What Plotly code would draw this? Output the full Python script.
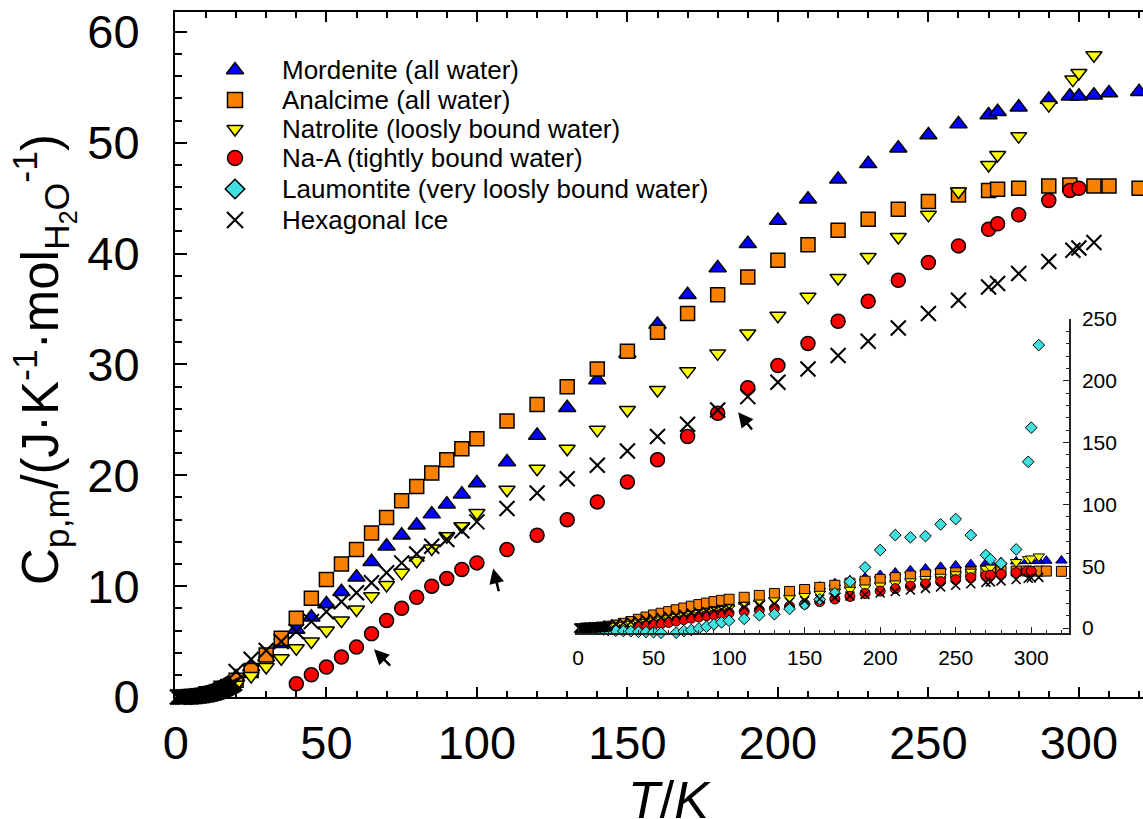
import plotly.graph_objects as go

# ---------------- data ----------------
mord_T = [5, 10, 15, 20, 25, 30, 35, 40, 45, 50, 55, 60, 65, 70, 75, 80, 85, 90, 95, 100,
          110, 120, 130, 140, 150, 160, 170, 180, 190, 200, 210, 220, 230, 240, 250, 260,
          270, 273, 280, 290, 297, 300, 305, 310, 320]
mord_Cp = [0.05, 0.3, 0.9, 1.8, 2.7, 3.6, 4.8, 6.1, 7.2, 8.4, 9.5, 10.8, 12.2, 13.6, 14.6, 15.5,
           16.5, 17.4, 18.3, 19.3, 21.2, 23.6, 26.1, 28.6, 31.0, 33.6, 36.3, 38.7, 40.9, 43.0,
           44.9, 46.7, 48.1, 49.5, 50.7, 51.7, 52.5, 52.8, 53.2, 53.9, 54.2, 54.2, 54.3, 54.5, 54.6]

anal_T = [5, 10, 15, 20, 25, 30, 35, 40, 45, 50, 55, 60, 65, 70, 75, 80, 85, 90, 95, 100,
          110, 120, 130, 140, 150, 160, 170, 180, 190, 200, 210, 220, 230, 240, 250, 260,
          270, 273, 280, 290, 297, 305, 310, 320]
anal_Cp = [0.05, 0.3, 0.8, 1.5, 2.4, 3.8, 5.3, 7.1, 8.9, 10.6, 12.0, 13.3, 14.8, 16.2, 17.7, 19.0,
           20.2, 21.4, 22.4, 23.3, 24.9, 26.4, 28.0, 29.6, 31.2, 32.9, 34.6, 36.3, 37.9, 39.4,
           40.8, 42.1, 43.1, 44.0, 44.7, 45.3, 45.7, 45.8, 45.9, 46.1, 46.2, 46.1, 46.1, 45.9]

natr_T = [5, 10, 15, 20, 25, 30, 35, 40, 45, 50, 55, 60, 65, 70, 75, 80, 85, 90, 95, 100,
          110, 120, 130, 140, 150, 160, 170, 180, 190, 200, 210, 220, 230, 240, 250, 260,
          270, 273, 280, 290, 298, 300, 305]
natr_Cp = [0.03, 0.2, 0.6, 1.1, 1.9, 2.7, 3.5, 4.4, 5.0, 6.0, 6.9, 7.9, 9.1, 10.1, 11.2, 12.3,
           13.4, 14.5, 15.4, 16.6, 18.7, 20.6, 22.4, 24.1, 25.9, 27.7, 29.4, 31.0, 32.8, 34.4,
           36.1, 37.8, 39.7, 41.5, 43.5, 45.6, 48.0, 48.9, 50.6, 53.4, 55.7, 56.3, 57.9]

naa_T = [40, 45, 50, 55, 60, 65, 70, 75, 80, 85, 90, 95, 100, 110, 120, 130, 140, 150, 160,
         170, 180, 190, 200, 210, 220, 230, 240, 250, 260, 270, 273, 280, 290, 297, 300]
naa_Cp = [1.2, 2.0, 2.7, 3.6, 4.5, 5.7, 6.9, 8.0, 9.0, 10.0, 10.7, 11.5, 12.1, 13.3, 14.6, 16.0,
          17.6, 19.4, 21.4, 23.5, 25.6, 27.9, 29.9, 31.9, 33.9, 35.7, 37.6, 39.2, 40.7, 42.2,
          42.7, 43.5, 44.8, 45.7, 45.9]

laum_T = [5, 8, 11, 14, 17, 20, 25, 30, 35, 40, 45, 50, 55, 60, 65, 70, 75, 80, 85, 90, 95, 100,
          110, 120, 130, 140, 150, 160, 170, 180, 190, 200, 210, 220, 230, 240, 250, 260, 270,
          273, 280, 290, 298, 300, 305]
laum_Cp = [0.0, 0.0, -0.5, -0.8, -1.2, -1.6, -2.2, -2.4, -2.6, -3.0, -3.2, -3.3, -3.8, -4.3, -3.8,
           -2.4, -1.6, -0.3, 1.1, 3.0, 4.6, 5.9, 7.4, 10.4, 11.2, 15.5, 19.2, 23.2, 28.1, 37.5,
           49.1, 63.1, 75.2, 73.4, 74.4, 83.9, 88.2, 75.2, 59.0, 55.6, 52.3, 63.6, 134.5, 162.1,
           228.9]

ice_T = [0.5, 1, 1.5, 2, 2.5, 3, 3.5, 4, 4.5, 5, 5.5, 6, 6.5, 7, 7.5, 8, 8.5, 9, 9.5, 10,
         10.5, 11, 11.5, 12, 12.5, 13, 13.5, 14, 14.5, 15, 15.5, 16, 16.5, 17, 17.5, 18, 18.5,
         19, 19.5, 20, 25, 30, 35, 40, 45, 50, 55, 60, 65, 70, 75, 80, 85, 90, 95, 100, 110, 120,
         130, 140, 150, 160, 170, 180, 190, 200, 210, 220, 230, 240, 250, 260, 270, 273, 280,
         290, 298, 300, 305]
ice_Cp = [0.0, 0.0, 0.0, 0.0, 0.0, 0.01, 0.01, 0.02, 0.02, 0.03, 0.04, 0.05, 0.06, 0.08, 0.09,
          0.11, 0.13, 0.15, 0.17, 0.2, 0.23, 0.26, 0.29, 0.33, 0.37, 0.41, 0.45, 0.5, 0.55, 0.6,
          0.66, 0.72, 0.78, 0.85, 0.92, 1.0, 1.07, 1.15, 1.25, 2.3, 3.4, 4.2, 5.0, 5.9, 6.8, 7.7,
          8.6, 9.4, 10.3, 11.2, 12.1, 12.9, 13.6, 14.2, 15.0, 15.8, 17.0, 18.4, 19.7, 20.9, 22.2,
          23.5, 24.6, 25.9, 27.1, 28.4, 29.6, 30.8, 32.1, 33.3, 34.6, 35.8, 37.0, 37.3, 38.2,
          39.3, 40.3, 40.5, 41.0]

series_names = ["Mordenite (all water)", "Analcime (all water)", "Natrolite (loosly bound water)",
                "Na-A (tightly bound water)", "Laumontite (very loosly bound water)",
                "Hexagonal Ice"]

# arrows (head T, head Cp, tail T, tail Cp)
arrows = [(65.8, 4.3, 71.7, 2.7), (105.4, 11.6, 107.4, 9.4), (186.8, 25.7, 191.8, 24.0)]

# ---------------- styles ----------------
FONT = "Liberation Sans, Arial, sans-serif"

styles = [
    dict(symbol="triangle-up", color="#0000FF", size=15, isize=10, lsize=15),
    dict(symbol="square", color="#FA8000", size=14, isize=10, lsize=15),
    dict(symbol="triangle-down", color="#FFFF00", size=14, isize=10, lsize=14),
    dict(symbol="circle", color="#FF0000", size=14, isize=10, lsize=15),
    dict(symbol="diamond", color="#40E0E0", size=11, isize=9, lsize=15),
    dict(symbol="x-thin", color="black", size=15, isize=9, lsize=16),
]
data = [(mord_T, mord_Cp), (anal_T, anal_Cp), (natr_T, natr_Cp), (naa_T, naa_Cp),
        (laum_T, laum_Cp), (ice_T, ice_Cp)]
in_main = [True, True, True, True, False, True]


def marker(st, size, lw):
    if st["symbol"] == "x-thin":
        return dict(symbol="x-thin", size=size, line=dict(color="black", width=lw + 0.6))
    return dict(symbol=st["symbol"], size=size, color=st["color"],
                line=dict(color="black", width=lw))


fig = go.Figure()
for (T, C), st, nm, m in zip(data, styles, series_names, in_main):
    if m:
        fig.add_trace(go.Scatter(x=T, y=C, mode="markers", name=nm, showlegend=False,
                                 marker=marker(st, st["size"], 1.5), cliponaxis=False,
                                 xaxis="x", yaxis="y"))
for (T, C), st, nm in zip(data, styles, series_names):
    fig.add_trace(go.Scatter(x=T, y=C, mode="markers", name=nm, showlegend=False,
                             marker=marker(st, st["isize"], 1.0), cliponaxis=False,
                             xaxis="x2", yaxis="y2"))

# ---------------- layout geometry ----------------
W, H = 1143, 819
ML, MR, MT, MB = 175, 0, 12, 122
PW, PH = W - ML - MR, H - MT - MB


def px_x(px):
    return (px - ML) / PW


def px_y(py):
    return (H - MB - py) / PH


# legend key (drawn on a hidden helper axis in paper fractions)
leg_rows = [70, 100, 129, 158, 189, 220]
leg_mx, leg_tx = 235, 280
for st, nm, ry in zip(styles, series_names, leg_rows):
    fig.add_trace(go.Scatter(x=[px_x(leg_mx)], y=[px_y(ry)], mode="markers",
                             marker=marker(st, st["lsize"], 1.5), showlegend=False,
                             cliponaxis=False, xaxis="x4", yaxis="y4", hoverinfo="skip"))

annotations = []
for nm, ry in zip(series_names, leg_rows):
    annotations.append(dict(xref="paper", yref="paper", x=px_x(leg_tx), y=px_y(ry),
                            xanchor="left", yanchor="middle", text=nm, showarrow=False,
                            font=dict(family=FONT, size=26, color="black")))

for hx, hy, tx, ty in arrows:
    annotations.append(dict(xref="x", yref="y", axref="x", ayref="y", x=hx, y=hy, ax=tx, ay=ty,
                            text="", showarrow=True, arrowhead=2, arrowsize=1.2,
                            arrowwidth=2.5, arrowcolor="black"))

annotations.append(dict(xref="paper", yref="paper", x=px_x(44), y=px_y(360),
                        xanchor="center", yanchor="middle", textangle=-90, showarrow=False,
                        text="C<sub>p,m</sub>/(J·K<sup>-1</sup>·mol<sub>H<sub>2</sub>O</sub><sup>-1</sup>)",
                        font=dict(family=FONT, size=51, color="black")))
annotations.append(dict(xref="paper", yref="paper", x=px_x(669), y=px_y(800),
                        xanchor="center", yanchor="middle", showarrow=False,
                        text="<i>T</i>/<i>K</i>",
                        font=dict(family=FONT, size=52, color="black")))

fig.update_layout(
    width=W, height=H,
    margin=dict(l=ML, r=MR, t=MT, b=MB, pad=0),
    paper_bgcolor="white", plot_bgcolor="rgba(0,0,0,0)",
    showlegend=False,
    annotations=annotations,
    xaxis=dict(domain=[0, 1], range=[-0.3, 321.3], showgrid=False, zeroline=False,
               showline=True, linecolor="black", linewidth=2, mirror="ticks",
               ticks="inside", ticklen=10, tickwidth=2, tickcolor="black",
               dtick=50, tick0=0, ticklabelstandoff=4,
               minor=dict(dtick=10, ticks="inside", ticklen=6, tickwidth=1.5, tickcolor="black"),
               tickfont=dict(family=FONT, size=47, color="black")),
    yaxis=dict(domain=[0, 1], range=[0, 61.8], showgrid=False, zeroline=False,
               showline=True, linecolor="black", linewidth=2,
               ticks="inside", ticklen=12, tickwidth=2, tickcolor="black",
               dtick=10, tick0=0, ticklabelstandoff=24,
               minor=dict(dtick=2, ticks="inside", ticklen=7, tickwidth=1.5, tickcolor="black"),
               tickfont=dict(family=FONT, size=47, color="black")),
    xaxis2=dict(domain=[px_x(575), px_x(1069)], range=[-2, 325], anchor="y2",
                showgrid=False, zeroline=False, showline=True, linecolor="#222", linewidth=1.5,
                ticks="inside", ticklen=6, tickwidth=1.2, tickcolor="#222",
                dtick=50, tick0=0, ticklabelstandoff=5,
                minor=dict(dtick=10, ticks="inside", ticklen=3.5, tickwidth=1, tickcolor="#222"),
                tickfont=dict(family=FONT, size=21, color="black")),
    yaxis2=dict(domain=[px_y(633), px_y(319)], range=[-4, 250], anchor="x2", side="right",
                showgrid=False, zeroline=False, showline=True, linecolor="#222", linewidth=1.5,
                ticks="inside", ticklen=6, tickwidth=1.2, tickcolor="#222",
                dtick=50, tick0=0, ticklabelstandoff=7,
                minor=dict(dtick=10, ticks="inside", ticklen=3.5, tickwidth=1, tickcolor="#222"),
                tickfont=dict(family=FONT, size=21, color="black")),
    xaxis4=dict(domain=[0, 1], range=[0, 1], visible=False, anchor="y4"),
    yaxis4=dict(domain=[0, 1], range=[0, 1], visible=False, anchor="x4"),
)

fig.write_html("out.html")
